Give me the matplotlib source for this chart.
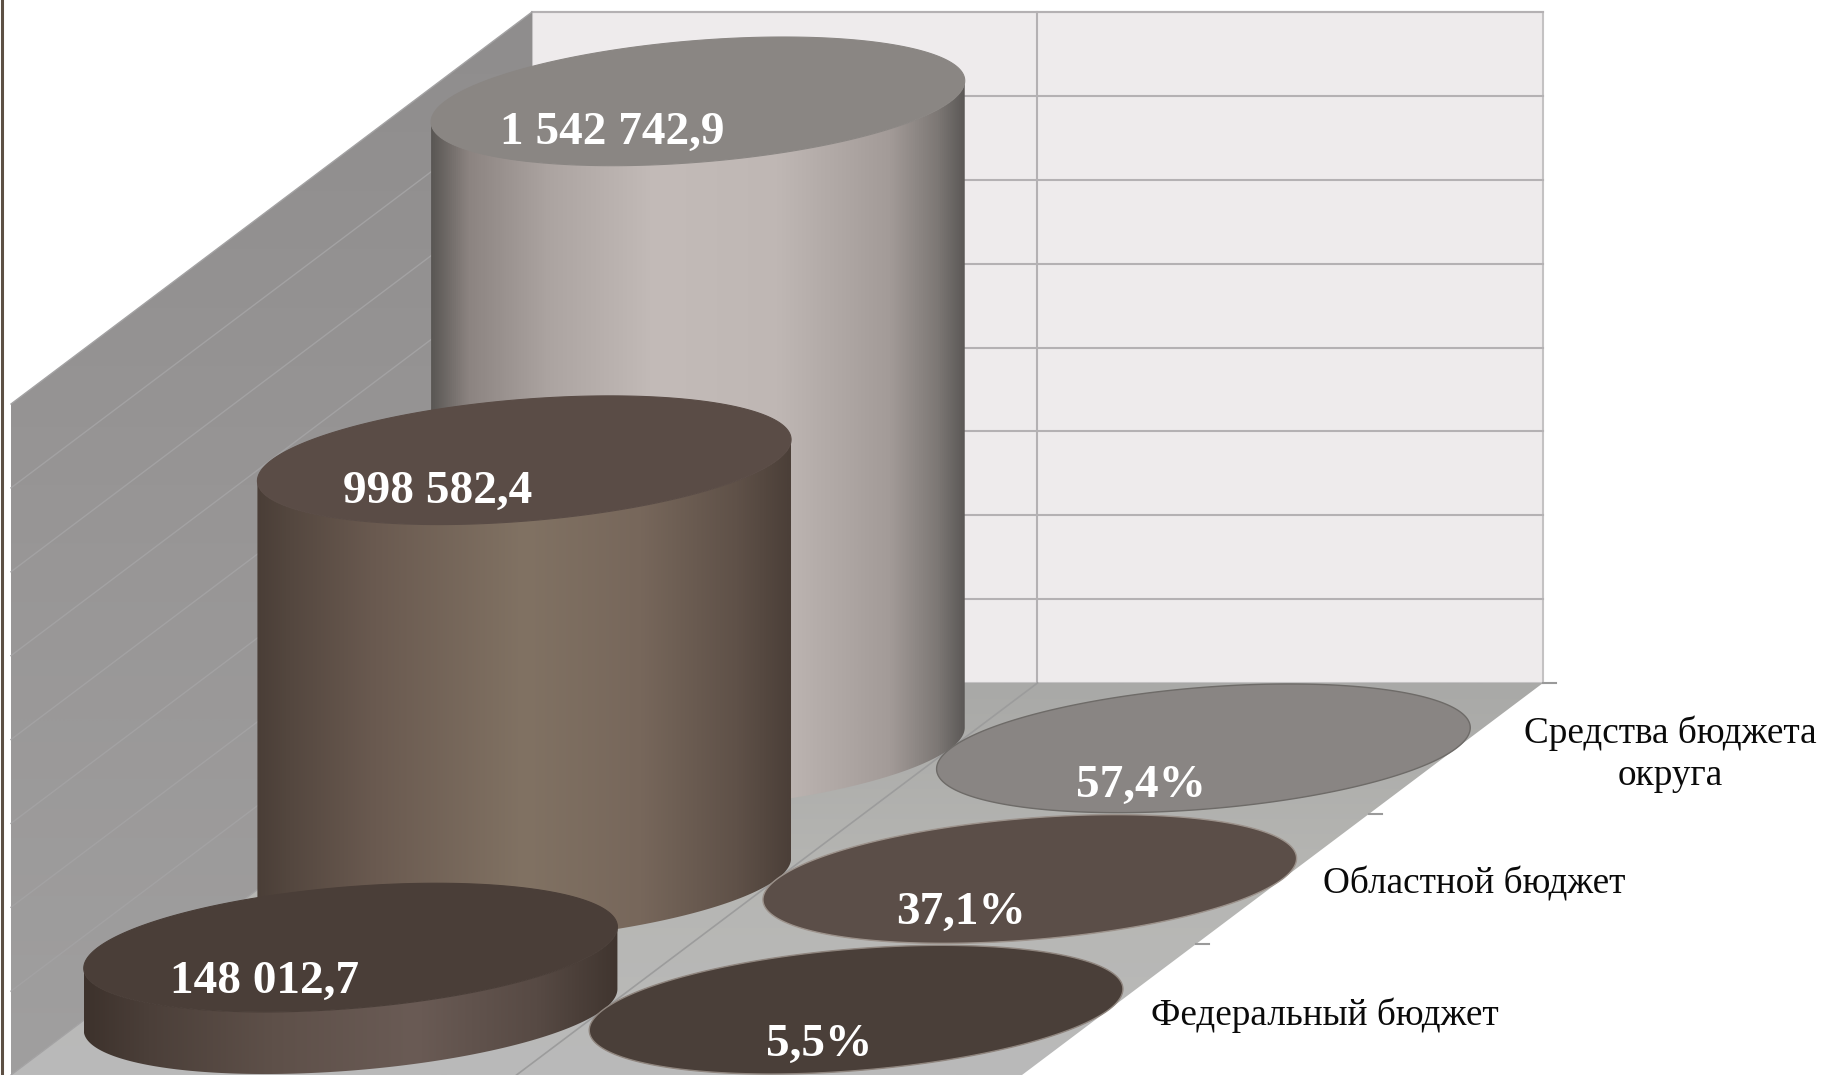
import numpy as np
import matplotlib
matplotlib.use("Agg")
import matplotlib.pyplot as plt
from matplotlib.colors import LinearSegmentedColormap
from matplotlib.patches import Polygon

categories = ["Федеральный бюджет", "Областной бюджет", "Средства бюджета\nокруга"]
amounts = [148012.7, 998582.4, 1542742.9]
shares = [5.5, 37.1, 57.4]
amount_labels = ["148 012,7", "998 582,4", "1 542 742,9"]
share_labels = ["5,5%", "37,1%", "57,4%"]
axis_max = 1600000
axis_step = 200000

# layout of the oblique 3D box, in pixels
X0, X1, Y0, Y1 = 532, 1543, 12, 683
DX, DY = 521.0, 392.0           # how far the depth axis runs
ROWS, COLS = 3, 2
K = (Y1 - Y0) / axis_max
SHEAR = DX / DY
A = (X1 - X0) / COLS / 2
B = DY / ROWS / 2 * 0.985


def proj(col, row_from_back, value=0.0):
    """col and row_from_back in category units; value in axis units."""
    d = row_from_back * DY / ROWS
    return X0 + (X1 - X0) * col / COLS - SHEAR * d, Y1 + d - value * K


def ring(cx, cy, t):
    return cx + A * np.cos(t) - SHEAR * B * np.sin(t), cy + B * np.sin(t)


fig = plt.figure(figsize=(18.24, 10.75), dpi=100)
ax = fig.add_axes([0, 0, 1, 1])
serif = "Liberation Serif"


def grad(poly, stops, x0, x1, y0, y1, vertical=False, z=1):
    cmap = LinearSegmentedColormap.from_list("g", stops)
    g = np.linspace(0, 1, 512)
    g = g[:, None] if vertical else g[None, :]
    im = ax.imshow(g, cmap=cmap, extent=(x0, x1, y1, y0), aspect="auto", zorder=z, interpolation="bilinear")
    p = Polygon(poly, closed=True, transform=ax.transData, facecolor="none", edgecolor="none")
    ax.add_patch(p)
    im.set_clip_path(p)


def poly(xy, **kw):
    ax.add_patch(Polygon(xy, closed=True, **kw))


# walls and floor
poly([(X0, Y0), (X1, Y0), (X1, Y1), (X0, Y1)], facecolor="#eeebec", edgecolor="#c4c2c3", lw=1.5, zorder=1)
side = [(X0, Y0), (X0, Y1), (X0 - DX, Y1 + DY), (X0 - DX, Y0 + DY)]
grad(side, ["#8f8d8d", "#989696", "#a09f9f"], X0 - DX, X0, Y0, Y1 + DY, vertical=True, z=1)
floor = [(X0, Y1), (X1, Y1), (X1 - SHEAR * DY, Y1 + DY), (X0 - DX, Y1 + DY)]
grad(floor, ["#a9a9a7", "#b6b6b3", "#bababa"], X0 - DX, X1, Y1, Y1 + DY, vertical=True, z=1)

# gridlines
for v in np.arange(0, axis_max + 1, axis_step):
    y = Y1 - v * K
    if v > 0:
        ax.plot([X0, X1], [y, y], color="#b4b1b3", lw=1.5, zorder=2)
    ax.plot([X0, X0 - DX], [y, y + DY], color="#a3a2a3", lw=1, zorder=2)
xm, _ = proj(1, 0)
ax.plot([xm, xm], [Y0, Y1], color="#b4b1b3", lw=1.5, zorder=2)
xf, yf = proj(1, ROWS)
ax.plot([xm, xf], [Y1, yf], color="#9c9c9c", lw=1.2, zorder=2)
for r in range(ROWS + 1):
    x, y = proj(COLS, r)
    if r < ROWS:
        ax.plot([x, x + 13], [y, y], color="#9a9a9a", lw=1.5, zorder=2)

body_stops = [
    [(0, "#3d322c"), (.12, "#4b3f39"), (.35, "#5e5049"), (.62, "#6a5b55"), (.85, "#574a44"), (1, "#40352f")],
    [(0, "#4a3e37"), (.06, "#54473f"), (.22, "#6a5a50"), (.5, "#817263"), (.72, "#77675b"), (.9, "#5f5148"), (1, "#4b3f38")],
    [(0, "#5a5754"), (.07, "#8c8481"), (.22, "#aca4a1"), (.42, "#c3bbb8"), (.65, "#bfb7b4"), (.86, "#a39b98"), (.95, "#7d7875"), (1, "#5c5957")],
]
top_colors = ["#4a3e38", "#5a4c46", "#8a8683"]
disc_colors = ["#4a3f39", "#5b4e48", "#898583"]
disc_edges = ["#8f857e", "#9c928b", "#6e6b68"]
amount_offsets = [(-86, 34), (-87, 32), (-86, 32)]
share_offsets = [(-37, 35), (-69, 34), (-62, 38)]

ts = np.linspace(0, 2 * np.pi, 361)
E = np.hypot(A, SHEAR * B)
# draw back to front: the last category is at the back
for order, i in enumerate(range(ROWS - 1, -1, -1)):
    z = 10 + order * 5
    row = ROWS - 1 - i + 0.5
    cx, by = proj(0.5, row, 0)
    _, ty = proj(0.5, row, amounts[i])
    cx2, _ = proj(1.5, row, 0)
    # silhouette: from the right extreme round the front to the left extreme
    t_r = np.arctan2(-SHEAR * B, A)
    t_front = np.linspace(t_r, t_r + np.pi, 181)
    bx, byy = ring(cx, by, t_front)
    tx, tyy = ring(cx, ty, t_front[::-1])
    outline = np.column_stack([np.r_[bx, tx], np.r_[byy, tyy]])
    grad(outline, body_stops[i], cx - E, cx + E, ty - 100, by + 100, z=z)
    rx, ry = ring(cx, ty, ts)
    poly(np.column_stack([rx, ry]), facecolor=top_colors[i], edgecolor=top_colors[i], lw=0.8, zorder=z + 1)
    ox, oy = amount_offsets[i]
    ax.text(cx + ox, ty + oy, amount_labels[i], color="white", fontsize=34, fontweight="bold",
            family=serif, ha="center", va="center", zorder=40)
    # the share series is flat on the floor at the scale of the amounts
    dx, dy = ring(cx2, by - shares[i] * K, ts)
    poly(np.column_stack([dx, dy]), facecolor=disc_colors[i], edgecolor=disc_edges[i], lw=1.0, zorder=z + 2)
    ox, oy = share_offsets[i]
    ax.text(cx2 + ox, by + oy, share_labels[i], color="white", fontsize=34, fontweight="bold",
            family=serif, ha="center", va="center", zorder=40)

# category labels beside the floor edge
label_offsets = [(216, 6), (192, 5), (214, 6)]
for i, name in enumerate(categories):
    x, y = proj(COLS, ROWS - 1 - i + 0.5)
    ox, oy = label_offsets[i]
    ax.text(x + ox, y + oy, name, fontsize=26.8, family=serif, color="#0a0a0a",
            ha="center", va="center", linespacing=1.3, zorder=40)

# frame line on the left of the picture
ax.plot([2.5, 2.5], [0, 1075], color="#5d5044", lw=2.2, zorder=50)

ax.set_xlim(0, 1824)
ax.set_ylim(1075, 0)
ax.axis("off")
fig.savefig("out.png", dpi=100, facecolor="white")
